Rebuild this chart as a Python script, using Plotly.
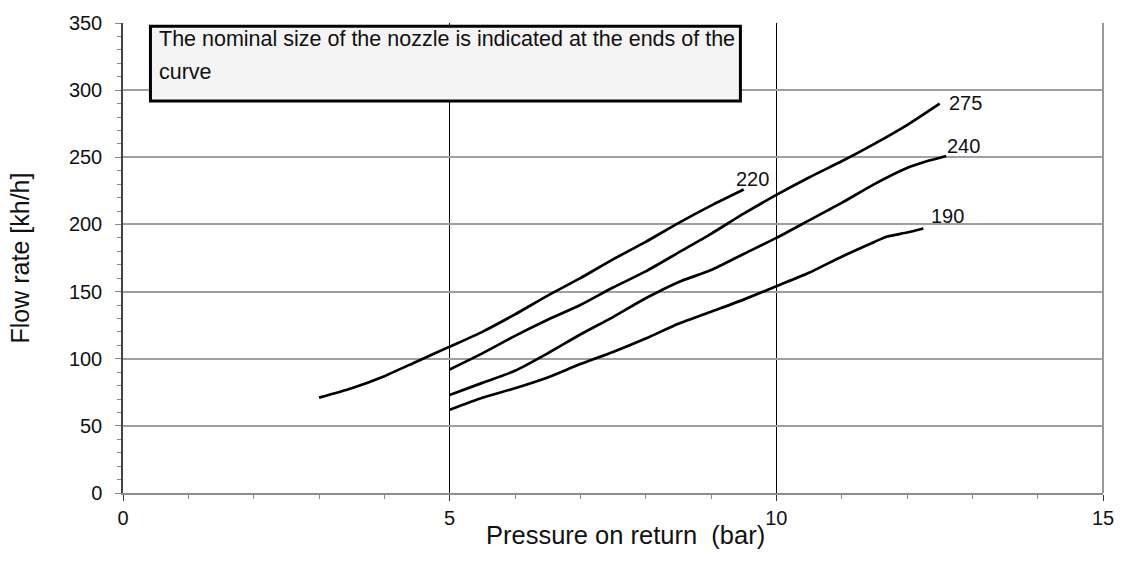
import plotly.graph_objects as go

# ---- data ----
x_220 = [3.0, 3.5, 4.0, 4.5, 5.0, 5.5, 6.0, 6.5, 7.0, 7.5, 8.0, 8.5, 9.0, 9.5]
y_220 = [71, 78, 87, 98, 109, 120, 133, 147, 160, 174, 187, 201, 214, 226]

x_275 = [5.0, 5.5, 6.0, 6.5, 7.0, 7.5, 8.0, 8.5, 9.0, 9.5, 10.0, 10.5, 11.0, 11.5, 12.0, 12.5]
y_275 = [92, 104, 117, 129, 140, 153, 165, 179, 193, 208, 222, 235, 247, 260, 274, 290]

x_240 = [5.0, 5.5, 6.0, 6.5, 7.0, 7.5, 8.0, 8.5, 9.0, 9.5, 10.0, 10.5, 11.0, 11.5, 12.0, 12.3, 12.6]
y_240 = [73, 82, 91, 104, 118, 131, 145, 157, 166, 178, 190, 203, 216, 230, 242, 247, 251]

x_190 = [5.0, 5.5, 6.0, 6.5, 7.0, 7.5, 8.0, 8.5, 9.0, 9.5, 10.0, 10.5, 11.0, 11.5, 11.7, 12.0, 12.25]
y_190 = [62, 71, 78, 86, 96, 105, 115, 126, 135, 144, 154, 164, 176, 187, 191, 194, 197]

series_names = ["220", "275", "240", "190"]
label_x = [9.64, 12.89, 12.86, 12.62]
label_y = [233.7, 290.5, 258.1, 206.2]

x_ticks = [0, 5, 10, 15]
y_ticks = [0, 50, 100, 150, 200, 250, 300, 350]

note_lines = ["The nominal size of the nozzle is indicated at the ends of the", "curve"]
x_title = "Pressure on return&nbsp; (bar)"
y_title = "Flow rate [kh/h]"

FONT = "Liberation Sans, Arial, sans-serif"

fig = go.Figure()
for name, xs, ys in zip(series_names,
                        [x_220, x_275, x_240, x_190],
                        [y_220, y_275, y_240, y_190]):
    fig.add_trace(go.Scatter(x=xs, y=ys, mode="lines", name=name,
                             line=dict(color="black", width=2.7, shape="spline", smoothing=0.6),
                             showlegend=False, hoverinfo="skip"))

# curve end labels
for name, lx, ly in zip(series_names, label_x, label_y):
    fig.add_annotation(x=lx, y=ly, xref="x", yref="y", text=name, showarrow=False,
                       xanchor="center", yanchor="middle",
                       font=dict(family=FONT, size=20, color="#111"))

# note box
fig.add_shape(type="rect", xref="x", yref="y", x0=0.42, x1=9.45, y0=292, y1=347.5,
              fillcolor="#f4f4f4", line=dict(color="black", width=3), layer="above")
fig.add_annotation(x=0.52, y=337.9, xref="x", yref="y", text=note_lines[0], showarrow=False,
                   xanchor="left", yanchor="middle", font=dict(family=FONT, size=21.5, color="#111"))
fig.add_annotation(x=0.52, y=313.6, xref="x", yref="y", text=note_lines[1], showarrow=False,
                   xanchor="left", yanchor="middle", font=dict(family=FONT, size=21.5, color="#111"))

# right border of plot area
fig.add_shape(type="line", xref="paper", yref="paper", x0=1, x1=1, y0=0, y1=1,
              line=dict(color="#999999", width=2), layer="above")

# x axis title as annotation (offset like reference)
fig.add_annotation(x=0.513, y=-0.09, xref="paper", yref="paper", text=x_title, showarrow=False,
                   xanchor="center", yanchor="middle", font=dict(family=FONT, size=25.5, color="#111"))

fig.update_layout(
    width=1126, height=562,
    margin=dict(l=123, r=22, t=16.5, b=68.5),
    plot_bgcolor="white", paper_bgcolor="white",
    font=dict(family=FONT, size=20, color="#111"),
    xaxis=dict(range=[0, 15], tickvals=x_ticks, ticktext=[str(v) for v in x_ticks],
               showgrid=True, gridcolor="black", gridwidth=1,
               showline=True, linecolor="#8c8c8c", linewidth=2,
               ticks="outside", ticklen=6, tickcolor="#333", tickwidth=1,
               minor=dict(dtick=1, ticks="outside", ticklen=4, tickcolor="#888", showgrid=False),
               zeroline=False, tickfont=dict(size=20, color="#111")),
    yaxis=dict(range=[0, 350], tickvals=y_ticks, ticktext=[str(v) for v in y_ticks],
               showgrid=True, gridcolor="#a0a0a0", gridwidth=2,
               showline=True, linecolor="#444", linewidth=1.5,
               ticks="outside", ticklen=6, tickcolor="#888", tickwidth=1,
               ticklabelstandoff=9,
               minor=dict(dtick=10, ticks="outside", ticklen=4, tickcolor="#888", showgrid=False),
               zeroline=False, tickfont=dict(size=20, color="#111"),
               title=dict(text=y_title, font=dict(family=FONT, size=25, color="#111"), standoff=32)),
)

fig.write_html("out.html", config={"displayModeBar": False},
               post_script="document.body.style.margin='0';document.body.style.overflow='hidden';")
